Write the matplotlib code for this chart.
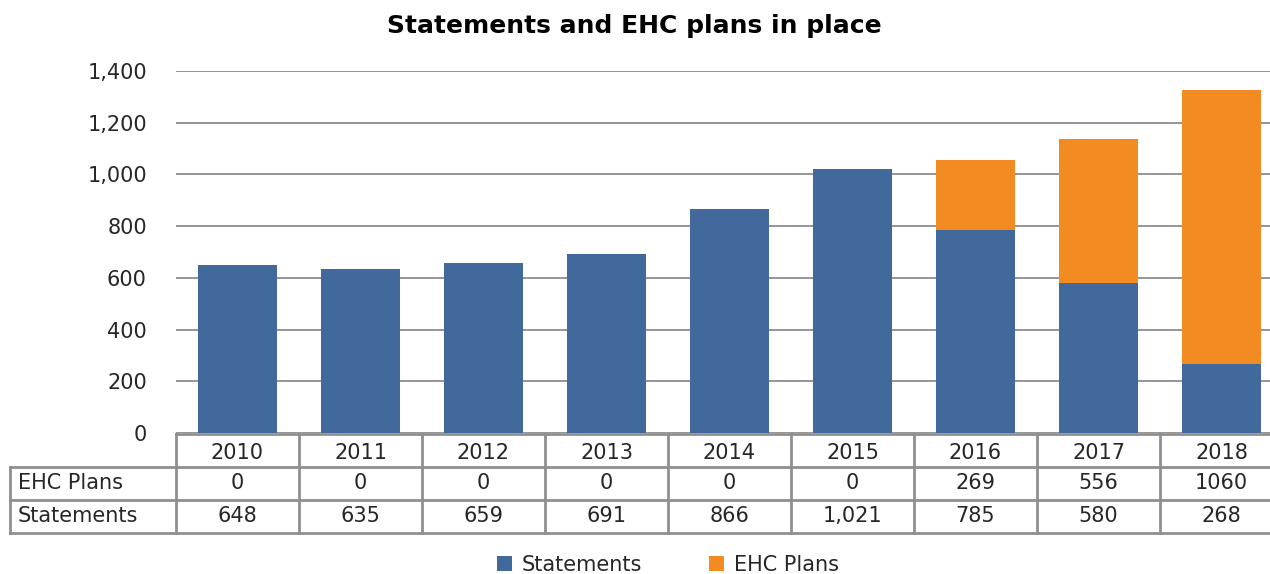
import matplotlib.pyplot as plt
import matplotlib.transforms as mtransforms
from matplotlib.lines import Line2D
import numpy as np

years = ['2010', '2011', '2012', '2013', '2014', '2015', '2016', '2017', '2018']
statements = [648, 635, 659, 691, 866, 1021, 785, 580, 268]
ehc_plans = [0, 0, 0, 0, 0, 0, 269, 556, 1060]
statements_lbl = ['648', '635', '659', '691', '866', '1,021', '785', '580', '268']
ehc_lbl = ['0', '0', '0', '0', '0', '0', '269', '556', '1060']

blue = '#41699b'
orange = '#f28b22'
grid_c = '#8c8c8c'
txt_c = '#262626'
fs = 15

W, H = 1270, 574
fig = plt.figure(figsize=(12.7, 5.74), dpi=100)
ax = fig.add_axes([176 / W, 1 - 433 / H, (1283 - 176) / W, (433 - 71) / H])

x = np.arange(len(years))
ax.bar(x, statements, width=0.65, color=blue, label='Statements', zorder=3)
ax.bar(x, ehc_plans, width=0.65, bottom=statements, color=orange, label='EHC Plans', zorder=3)

ax.set_xlim(-0.5, len(years) - 0.5)
ax.set_ylim(0, 1400)
ax.set_yticks(range(0, 1401, 200))
ax.set_yticklabels([f'{v:,}' for v in range(0, 1401, 200)], fontsize=fs, color=txt_c)
ax.tick_params(axis='y', length=0, pad=21)
ax.set_xticks([])
ax.yaxis.grid(True, color=grid_c, linewidth=1.3, zorder=0)
for s in ax.spines.values():
    s.set_visible(False)

fig.suptitle('Statements and EHC plans in place', x=634 / W, y=1 - 26 / H,
             va='center', fontsize=18, fontweight='bold', color='black')

# data table under the axis
tr = mtransforms.blended_transform_factory(ax.transData, fig.transFigure)
fy = lambda p: 1 - p / H
lw = 2
tc = '#8f8f8f'
fig.add_artist(Line2D([176 / W, 1], [fy(434), fy(434)], transform=fig.transFigure, color=tc, lw=lw))
for p in (467, 500, 533):
    fig.add_artist(Line2D([10 / W, 1], [fy(p), fy(p)], transform=fig.transFigure, color=tc, lw=lw))
fig.add_artist(Line2D([10 / W, 10 / W], [fy(467), fy(533)], transform=fig.transFigure, color=tc, lw=lw))
for i in range(len(years) + 1):
    fig.add_artist(Line2D([i - 0.5, i - 0.5], [fy(434), fy(533)], transform=tr, color=tc, lw=lw))

for i in range(len(years)):
    fig.text(i, fy(453), years[i], transform=tr, ha='center', va='center', fontsize=fs, color=txt_c)
    fig.text(i, fy(483), ehc_lbl[i], transform=tr, ha='center', va='center', fontsize=fs, color=txt_c)
    fig.text(i, fy(516), statements_lbl[i], transform=tr, ha='center', va='center', fontsize=fs, color=txt_c)
fig.text(18 / W, fy(483), 'EHC Plans', ha='left', va='center', fontsize=fs, color=txt_c)
fig.text(18 / W, fy(516), 'Statements', ha='left', va='center', fontsize=fs, color=txt_c)

fig.legend(loc='center', bbox_to_anchor=(668 / W, fy(565)), ncol=2, frameon=False,
           fontsize=fs, handlelength=0.7, handleheight=0.7, columnspacing=3.2,
           handletextpad=0.5, labelcolor=txt_c)

fig.savefig('out.png', dpi=100)
